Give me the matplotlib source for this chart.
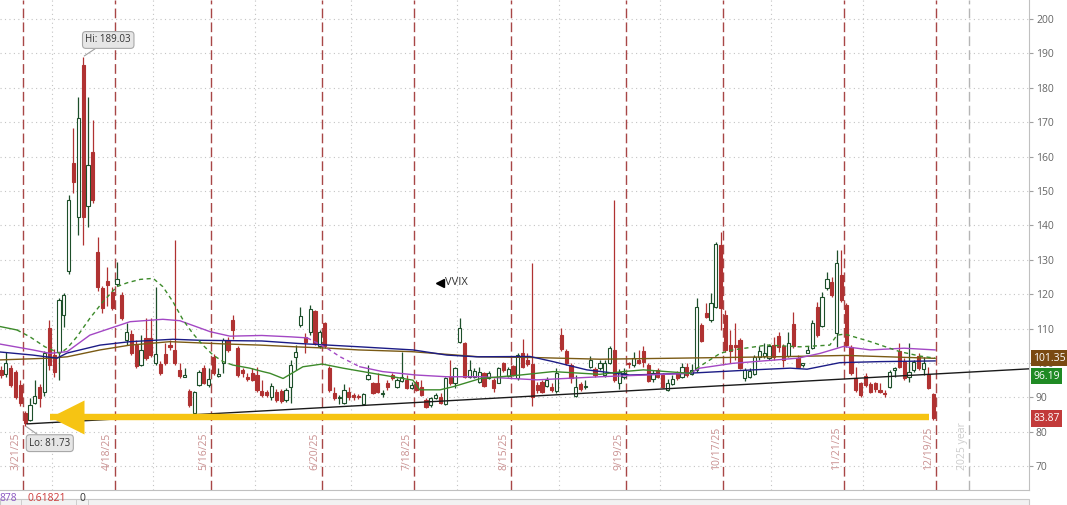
import numpy as np
import pandas as pd
import matplotlib
matplotlib.use("Agg")
import matplotlib.pyplot as plt
from matplotlib.transforms import blended_transform_factory, ScaledTranslation, offset_copy
from matplotlib.patches import Rectangle

plt.rcParams['font.family'] = ['Open Sans', 'DejaVu Sans']

# ---------------- data ----------------
holidays = ['2025-04-18', '2025-05-26', '2025-06-19', '2025-07-04',
            '2025-09-01', '2025-11-27', '2025-12-25']
dates = pd.bdate_range('2025-03-17', '2025-12-19', freq='C', holidays=holidays)
year_end_dates = pd.bdate_range('2025-03-17', '2025-12-31', freq='C', holidays=holidays)

opens = [98, 96.7, 98.5, 97.5, 93.6, 85.5, 83.4, 88.3, 93.1, 91.7,
         110.1, 102.3, 103.3, 114, 126.6, 158, 142.5, 186.6, 145.5, 161.4,
         132.4, 121.7, 123.8, 120.7, 122.9, 119.8, 106.7, 108.4, 105.2, 99.4,
         107.2, 107.2, 99.9, 99.6, 102.6, 105.2, 103.8, 97.9, 95.9, 91.8,
         85.6, 93.6, 98.6, 93.6, 101.8, 96.2, 99.9, 106.7, 112.5, 104.3,
         98, 96, 97, 96.5, 91.9, 91.7, 90.2, 91.7, 92, 89.2,
         93.1, 101.7, 111, 107.7, 109.1, 115.1, 104.8, 111.5, 98.5, 91.2,
         89.7, 88.3, 91.7, 90.7, 90.5, 88.1, 95.3, 94.1, 94.3, 91,
         94.1, 96.5, 93.1, 94.8, 95.2, 92.6, 94.6, 93.1, 89.2, 87.8,
         89.7, 90.2, 88.1, 96, 94.1, 106.2, 105.9, 96, 96, 94.6,
         97, 95.7, 95.1, 94.3, 100.1, 96.2, 99.1, 95.5, 103, 100.9,
         99.7, 93.6, 94.6, 93.3, 92.9, 92, 108.1, 103.6, 99.4, 90.4,
         93.9, 93.1, 98.9, 98.2, 98.5, 96.5, 99.9, 103.8, 94.3, 95.8,
         100.1, 99.4, 100.9, 103.6, 99.4, 95.3, 98, 96.5, 92.2, 93.9,
         97.2, 95.8, 98.7, 96.8, 98, 111, 114.4, 112.5, 116.2, 134.3,
         113.9, 105.2, 105.2, 106.7, 95.5, 96, 96.8, 101.6, 101.9, 101.4,
         105.2, 107.9, 104.8, 102, 111.3, 101.4, 99.4, 103, 104.3, 116.2,
         110.8, 121.7, 123.6, 108.6, 125.6, 116.9, 104.7, 95.5, 94.1, 96.2,
         93.9, 94.3, 92.2, 91.4, 93, 98, 103.6, 100.7, 96, 98,
         102, 98.2, 96.8, 91]
highs = [99, 103.3, 99.5, 98, 95, 86, 89.7, 95, 94, 103.5,
         112.5, 104, 119, 120.3, 148.8, 168.2, 177.4, 189.03, 177.4, 170.6,
         136.7, 122.5, 128, 122.2, 129.5, 120.7, 111.5, 109.6, 106.7, 108.1,
         113, 113, 122.2, 100.5, 105.7, 106.7, 135.8, 99.9, 98.4, 92.5,
         92, 98, 99.4, 98.4, 102.5, 98.4, 107.2, 107.6, 114, 104.8,
         98.5, 97, 98.4, 98.9, 95, 92.2, 94.1, 92.5, 92.5, 92.7,
         100.9, 105.2, 116.4, 108.6, 116.9, 115.4, 109.6, 112, 99, 93.1,
         90.7, 93.9, 93.1, 91.2, 91, 91.2, 99.4, 94.6, 97, 92.2,
         95.1, 97, 95.5, 103.3, 96.5, 94.6, 95.1, 95.1, 89.7, 90.2,
         91.2, 91.2, 96, 100.9, 98.9, 113, 106.2, 100.9, 98.4, 98.9,
         97.5, 97.8, 95.5, 98.9, 100.4, 98.9, 99.4, 103, 106.9, 102.8,
         129.1, 94.6, 95.1, 96, 94.1, 98.4, 110.1, 104, 100.1, 96.5,
         94.6, 95.1, 102, 98.9, 100.9, 100.9, 104.9, 147.4, 98.2, 98.4,
         100.4, 103.3, 103.8, 104.9, 99.9, 98, 98.5, 97, 95.3, 96.5,
         97.8, 100.1, 100.1, 99.7, 118.9, 111.5, 117.5, 120.3, 135.3, 138,
         115.4, 109.6, 111.5, 107.2, 98.5, 98.5, 102.3, 104.8, 105.7, 105.5,
         107.6, 109.1, 105.5, 109.1, 114.9, 102.3, 100.1, 104.8, 112.5, 117.8,
         120.7, 126.5, 125.1, 132.8, 132.8, 117.3, 105.2, 98.9, 94.6, 97,
         94.6, 94.6, 94.1, 92.2, 98, 98.9, 105.7, 101.4, 105.9, 100.9,
         102.8, 101.8, 98.9, 91.2]
lows = [95.5, 96, 93, 89.5, 87.5, 81.73, 83, 88, 87.3, 90.5,
        98, 96, 95, 110.6, 126, 149.3, 137.2, 134.3, 139.6, 146.4,
        121, 114.4, 116.5, 115.4, 122.5, 112.5, 105.2, 102.3, 98.5, 99,
        100.9, 101.8, 99.5, 96.5, 99.4, 103.8, 99.4, 95.5, 95.8, 87.3,
        85, 93.3, 94, 93.1, 96.5, 96, 97, 103.3, 107, 96,
        96, 94.9, 94.9, 91.7, 90.2, 90.2, 89.2, 88.8, 88.5, 88.8,
        88.5, 98, 110.6, 102.8, 108.1, 105.2, 104.3, 104.3, 91.7, 89.2,
        88, 88, 89.2, 89.2, 89.5, 87.8, 95, 91, 91.4, 90.2,
        92.2, 95.2, 92.6, 94.5, 92.3, 92.3, 92, 90.4, 87, 87.3,
        89.4, 88.2, 87.8, 93.6, 92.6, 105.7, 95.5, 95.5, 95.5, 94.3,
        93.1, 95.4, 91.7, 94.1, 97.5, 96, 96.2, 95.2, 98.5, 99.1,
        87.5, 91.2, 91.2, 93.1, 91.7, 91.4, 103.5, 99.4, 94.1, 90.2,
        92, 92.4, 98.4, 96, 98, 96, 99.6, 94.6, 92.3, 95.3,
        98.5, 98.9, 99.7, 98.7, 94.6, 94.6, 95.5, 92.6, 91.9, 93.6,
        95.2, 95.5, 96, 96.5, 97.5, 106.2, 113, 112, 115.9, 109.6,
        103.3, 99.9, 100.9, 98.2, 94.9, 95.5, 96.5, 100.9, 101.4, 100.9,
        101, 103.3, 98.9, 101.6, 104.3, 98.5, 98.7, 102.8, 104, 107.6,
        110.6, 121.2, 119.3, 104.7, 117.8, 104.7, 96.5, 91.7, 90.2, 93.1,
        91.2, 91.7, 91.4, 90.2, 92.6, 96, 98.5, 95.2, 94.6, 97.5,
        98, 96.5, 92.3, 83.4]
closes = [96.5, 100.1, 93.6, 90.2, 88.3, 82.5, 87.8, 90.4, 89.7, 102.8,
          99.4, 97.5, 118.3, 119.8, 147.4, 152.7, 171.1, 142.5, 157.6, 147.4,
          122.2, 115.9, 122.8, 115.9, 124.3, 113, 109.1, 102.8, 99, 103.8,
          101.4, 102.3, 102.5, 97, 99.9, 104.6, 99.9, 96.2, 96.5, 87.8,
          91.7, 97.5, 94.3, 95.4, 97, 96.8, 106.7, 103.8, 109.6, 96.5,
          97.2, 95.3, 95.2, 92.2, 90.7, 90.7, 93.3, 89.2, 89, 92.2,
          99.4, 103.3, 113.7, 106.2, 115.6, 105.7, 109.1, 104.8, 92.2, 89.7,
          90, 92.2, 90, 90, 90, 90.9, 96.5, 91.4, 91.7, 91.4,
          93.1, 95.5, 95.1, 96, 92.6, 93.6, 92.2, 90.7, 87.3, 89.9,
          90.7, 88.5, 95.5, 94.1, 98.4, 110.1, 96, 98, 97.8, 97.5,
          93.3, 97.2, 92.6, 98.4, 98, 98.2, 96.5, 102.3, 98.9, 99.6,
          90.2, 92.2, 91.7, 95.1, 92.2, 97.2, 104, 99.9, 95.5, 93.1,
          92.3, 93.4, 100.9, 96.5, 99.9, 100.1, 104.3, 95.1, 97.5, 97,
          99.6, 101.4, 100.1, 100.4, 94.9, 97.2, 96, 93.1, 94.3, 95.3,
          95.5, 98.9, 96.5, 98, 116.4, 106.5, 113.3, 117.3, 134.6, 115.9,
          103.8, 103.6, 104.7, 98.5, 98, 97.8, 101.8, 103.6, 103, 104.8,
          101.6, 104.7, 100.9, 105.9, 105, 98.9, 99.9, 103.8, 111.5, 108.1,
          119.1, 124.3, 119.8, 129, 118.3, 105.2, 97, 92.2, 90.7, 93.6,
          91.7, 92.4, 91.7, 91, 97.5, 98.4, 98.9, 95.5, 97.5, 100.4,
          98.4, 100.1, 92.6, 83.87]

# moving-average lines (bar position, value)
green_pos = [-0.2, 3.3, 6, 9.1, 12.2, 13.7, 15.7, 18.4, 21.1, 24,
             26.1, 28.8, 31.5, 33.5, 35.6, 37.7, 39.7, 41.8, 43.9, 46,
             48, 51.5, 54.2, 55.7, 58.4, 62.5, 66.5, 70.8, 79, 85.3,
             86.7, 90.9, 93.6, 99.3, 107.5, 114.3, 124, 128.8, 133, 142.6,
             144.1, 148.9, 151.5, 158.6, 165.4, 171.6, 173.1, 174.7, 180, 186.1,
             190.3, 193.4]
green_val = [110.6, 109.6, 107.6, 104.7, 102.8, 104.3, 107.6, 113, 117.8, 122.2,
             123.3, 124.3, 124.6, 122.2, 117.8, 112.5, 108.6, 105.2, 102.3, 100.4,
             99.4, 98.5, 97.5, 97, 95.5, 98.9, 99.7, 98.5, 96.5, 95,
             92.2, 92.2, 93.1, 95.5, 96.5, 97.5, 96.7, 97.5, 98, 97,
             98.5, 102.8, 103.8, 105.2, 104.7, 105.2, 108.1, 108.4, 106.2, 103.3,
             102, 101.4]
purple_pos = [-0.2, 6.6, 10.1, 13.7, 18.4, 26.7, 33.5, 37, 43.3, 47.4,
              54, 60, 63.4, 67.5, 70.2, 74.3, 79, 86, 92.3, 99.2,
              111, 124, 142.6, 144.7, 151.5, 165, 169.6, 174.4, 180, 187,
              193.4]
purple_val = [105.5, 103.8, 102.8, 103.3, 108.1, 112, 112.7, 112.3, 109.1, 107.8,
              108, 107.6, 107.3, 104.3, 101.8, 98.9, 97.5, 96.5, 96, 96,
              95.1, 96, 97, 98.5, 99.9, 101.4, 102.8, 104.8, 103.8, 104.3,
              103.8]
navy_pos = [-0.2, 6.6, 11.6, 13.7, 20.5, 26.7, 35.6, 41.2, 47.5, 54,
            61.3, 74.3, 85.3, 92.3, 98.5, 109.5, 114.3, 121.3, 130.2, 142,
            148.9, 155.7, 163.4, 166.9, 173.7, 182, 193.4]
navy_val = [103.2, 102.3, 101.4, 102.9, 105.2, 106.2, 106.9, 106.6, 106.5, 106.4,
            105.7, 104.7, 103.8, 102.3, 101.8, 101.9, 100.4, 98, 96.5, 97,
            97.5, 98, 98.5, 98.2, 100.1, 100.4, 100.6]
brown_pos = [-0.2, 10, 13.7, 20.5, 26.7, 35, 47, 53.7, 61, 68,
             74, 85, 99, 110, 124, 140, 160, 175, 193.4]
brown_val = [100.9, 101.4, 101.8, 103.8, 105.2, 106.2, 105.5, 105.2, 104.7, 104.3,
             103.8, 103.3, 101.8, 101.6, 101.1, 101.4, 101.8, 102.2, 101.35]

trend_pos = [5.4, 212.8]
trend_val = [82.3, 98.3]
arrow_level = 84.2
arrow_pos = [10.1, 192.1]

label_dates = ['2025-03-21', '2025-04-18', '2025-05-16', '2025-06-20', '2025-07-18',
               '2025-08-15', '2025-09-19', '2025-10-17', '2025-11-21', '2025-12-19']
yticks = [70, 80, 90, 100, 110, 120, 130, 140, 150, 160, 170, 180, 190, 200]
price_tags = [(101.35, '#7a4a12'), (96.19, '#1f8a24'), (83.87, '#c23a3a')]
hi_value, lo_value = 189.03, 81.73

# ---------------- figure ----------------
W, H = 1067, 505
fig = plt.figure(figsize=(W / 100, H / 100), dpi=100)
fig.patch.set_facecolor('white')
ax = fig.add_axes([0, 15 / H, 1029 / W, 490 / H])
ax.set_xlim(-0.21, 212.84)
ax.set_ylim(63.08, 205.52)

x = np.arange(len(dates))
o = np.array(opens); h = np.array(highs); l = np.array(lows); c = np.array(closes)
up = c >= o
RED = '#b03232'
GRN = '#1d4f2a'

# grid
for v in yticks:
    ax.axhline(v, color='#c4c4c4', lw=0.8, ls=(0, (1, 3)), zorder=0)
months = dates.month
month_starts = [i for i in range(1, len(dates)) if months[i] != months[i - 1]]
for i in month_starts:
    ax.axvline(i - 0.5, color='#c4c4c4', lw=0.8, ls=(0, (1, 3)), zorder=0)

# dated dashed lines with rotated labels
trans_lbl = blended_transform_factory(ax.transData, ax.transAxes) + \
    ScaledTranslation(-7 / 100, 0, fig.dpi_scale_trans)
for d in label_dates:
    dt = pd.Timestamp(d)
    pos = dates.searchsorted(dt, side='right') - 1 + 0.5
    ax.axvline(pos, color='#a84646', lw=1.0, ls=(0, (7, 3)), zorder=1)
    ax.text(pos, 0.041, f"{dt.month}/{dt.day}/{dt.strftime('%y')}", rotation=90,
            transform=trans_lbl, ha='center', va='bottom', fontsize=7.5,
            color='#c99090', zorder=1)
year_pos = len(year_end_dates) - 0.5
ax.axvline(year_pos, color='#b5b5b5', lw=1.0, ls=(0, (7, 3)), zorder=1)
ax.text(year_pos, 0.041, '2025 year', rotation=90, transform=trans_lbl,
        ha='center', va='bottom', fontsize=7.5, color='#cccccc', zorder=1)

# candles
ax.vlines(x, l, h, colors=np.where(up, GRN, RED), lw=0.9, zorder=3)
body_lo = np.minimum(o, c)
body_h = np.maximum(np.abs(c - o), 0.35)
ax.bar(x, body_h, bottom=body_lo, width=0.66,
       color=np.where(up, 'white', RED), edgecolor=np.where(up, GRN, RED),
       linewidth=0.8, zorder=4)


def draw_ma(pos, val, color, dashed, dash=(0, (3, 2.5))):
    pos = np.asarray(pos); val = np.asarray(val)
    styles = []
    for k in range(len(pos) - 1):
        mid = 0.5 * (pos[k] + pos[k + 1])
        styles.append(any(a <= mid <= b for a, b in dashed))
    start = 0
    for k in range(1, len(styles) + 1):
        if k == len(styles) or styles[k] != styles[start]:
            ax.plot(pos[start:k + 1], val[start:k + 1], color=color, lw=1.0,
                    ls=dash if styles[start] else '-', zorder=5)
            start = k


draw_ma(brown_pos, brown_val, '#7a5a14', [])
draw_ma(navy_pos, navy_val, '#1c1c86', [])
draw_ma(purple_pos, purple_val, '#a347c4', [(64, 76)])
draw_ma(green_pos, green_val, '#3c8a2a', [(4.5, 48), (143, 194)])

# trendline and yellow arrow
ax.plot(trend_pos, trend_val, color='#1a1a1a', lw=1.0, zorder=6)
ax.plot(arrow_pos, [arrow_level, arrow_level], color='#f6c413', lw=4.6,
        solid_capstyle='butt', zorder=7)
head_tr = offset_copy(ax.transData, fig=fig, x=12.5, y=0, units='points')
ax.plot([arrow_pos[0]], [arrow_level], marker='<', ms=25, color='#f6c413',
        mec='none', transform=head_tr, zorder=7)

# VVIX label
ax.plot([90.9], [123.3], marker='<', ms=6, color='black', zorder=8)
ax.text(92.0, 123.3, 'VVIX', fontsize=8, color='#333333', va='center', ha='left', zorder=8)

# Hi / Lo callouts
hi_idx = int(np.argmax(h)); lo_idx = int(np.argmin(l))
box = dict(boxstyle='round,pad=0.3,rounding_size=0.35', fc='#e6e6e6', ec='#a8a8a8', lw=0.8)
ax.annotate(f'Hi: {hi_value:.2f}', xy=(hi_idx, hi_value), xytext=(hi_idx + 5.2, 193.9),
            fontsize=7, color='#333333', ha='center', va='center', bbox=box,
            arrowprops=dict(arrowstyle='-', color='#a0a0a0', lw=0.8, shrinkA=0, shrinkB=1),
            zorder=9)
ax.annotate(f'Lo: {lo_value:.2f}', xy=(lo_idx, lo_value), xytext=(lo_idx + 5.1, 76.7),
            fontsize=7, color='#333333', ha='center', va='center', bbox=box,
            arrowprops=dict(arrowstyle='-', color='#a0a0a0', lw=0.8, shrinkA=0, shrinkB=1),
            zorder=9)

# axes styling
for s in ['top', 'left']:
    ax.spines[s].set_visible(False)
ax.spines['right'].set_color('#c0c0c0')
ax.spines['bottom'].set_color('#c0c0c0')
ax.set_xticks([])
ax.yaxis.tick_right()
ax.set_yticks(yticks)
ax.set_yticklabels([str(v) for v in yticks])
ax.tick_params(axis='y', length=3, color='#a0a0a0', labelcolor='#666666',
               labelsize=7.5, pad=2)

# price tags on the right
tag_tr = blended_transform_factory(ax.transAxes, ax.transData)
for val, col in price_tags:
    ax.text(1.004, val, f'{val:.2f}', transform=tag_tr, ha='left', va='center',
            fontsize=7.5, color='white', clip_on=False, zorder=10,
            bbox=dict(boxstyle='square,pad=0.25', fc=col, ec='none'))

# bottom strip
fig.patches.append(Rectangle((0, -0.01), 1029 / W, 11.5 / H, transform=fig.transFigure,
                             fc='#f2f2f2', ec='#c8c8c8', lw=0.8, zorder=0))
for xp in [21, 76, 88]:
    fig.patches.append(Rectangle((xp / W, -0.01), 0.0001, 11.5 / H, transform=fig.transFigure,
                                 fc='#c8c8c8', ec='#c8c8c8', lw=0.6))
fig.text(0 / W, 1.2 / H, '878', fontsize=7.5, color='#8a55c0', ha='left', va='bottom')
fig.text(28 / W, 1.2 / H, '0.61821', fontsize=7.5, color='#cc3b3b', ha='left', va='bottom')
fig.text(79 / W, 1.2 / H, '0', fontsize=7.5, color='#333333', ha='left', va='bottom')

fig.savefig('out.png', dpi=100)
